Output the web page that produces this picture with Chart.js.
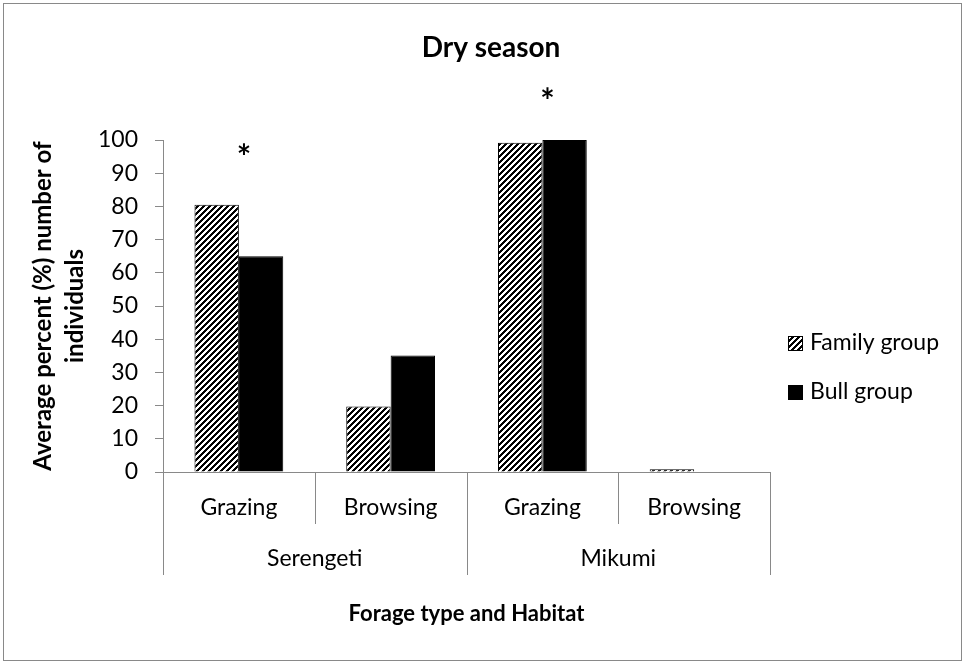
<!DOCTYPE html>
<html lang="en">
<head>
<meta charset="UTF-8">
<title>Dry season</title>
<script src="https://cdn.jsdelivr.net/npm/chart.js@4.4.1/dist/chart.umd.min.js"></script>
<style>
    body { margin: 0; background: #fff; }
    #wrap { width: 965px; height: 664px; }
</style>
</head>
<body>
<div id="wrap"><canvas id="chart" width="965" height="664"></canvas></div>
<script>
// data
const forageTypes = ["Grazing", "Browsing", "Grazing", "Browsing"];
const habitats = ["Serengeti", "Mikumi"];
const familyGroup = [80.5, 19.7, 99.2, 0.8];
const bullGroup = [65.0, 35.1, 100.0, 0];
const starLevels = [97, null, 114, null];   // "*" marks, in axis units
const yTickValues = [0, 10, 20, 30, 40, 50, 60, 70, 80, 90, 100];

const axisGray = "#898989";
Chart.defaults.font.family = "Lato, 'Open Sans', sans-serif";
Chart.defaults.color = "#000";

// upward diagonal hatch like the Excel fill
function makeHatch() {
    const p = 6;
    const c = document.createElement("canvas");
    c.width = p; c.height = p;
    const g = c.getContext("2d");
    const img = g.createImageData(p, p);
    for (let y = 0; y < p; y++) {
        for (let x = 0; x < p; x++) {
            const v = ((x + y) % p) < 3 ? 0 : 255;
            const i = (y * p + x) * 4;
            img.data[i] = img.data[i + 1] = img.data[i + 2] = v;
            img.data[i + 3] = 255;
        }
    }
    g.putImageData(img, 0, 0);
    return g.createPattern(c, "repeat");
}
const hatch = makeHatch();

const decorations = {
    id: "decorations",
    beforeDraw(chart) {
        const ctx = chart.ctx;
        ctx.save();
        ctx.fillStyle = "#fff";
        ctx.fillRect(0, 0, chart.width, chart.height);
        ctx.strokeStyle = axisGray;
        ctx.lineWidth = 1;
        ctx.strokeRect(3.5, 3.5, chart.width - 7, chart.height - 7);
        ctx.restore();
    },
    afterDraw(chart) {
        const { ctx, chartArea } = chart;
        const x = chart.scales.x, y = chart.scales.y;
        const n = forageTypes.length;
        const half = (x.getPixelForValue(1) - x.getPixelForValue(0)) / 2;
        ctx.save();

        // category separators under the axis
        ctx.strokeStyle = axisGray;
        ctx.lineWidth = 1;
        for (let i = 0; i <= n; i++) {
            const edge = i < n ? x.getPixelForValue(i) - half : x.getPixelForValue(n - 1) + half;
            const px = Math.round(edge) + 0.5;
            const len = i % 2 === 0 ? 103 : 52;
            ctx.beginPath();
            ctx.moveTo(px, chartArea.bottom);
            ctx.lineTo(px, chartArea.bottom + len);
            ctx.stroke();
        }

        // habitat labels
        ctx.fillStyle = "#000";
        ctx.font = "23px Lato";
        ctx.textAlign = "center";
        ctx.textBaseline = "middle";
        habitats.forEach((h, k) => {
            const cx = (x.getPixelForValue(2 * k) + x.getPixelForValue(2 * k + 1)) / 2;
            ctx.fillText(h, cx, chartArea.bottom + 87);
        });

        // significance stars
        ctx.font = "bold 34px Lato";
        ctx.textBaseline = "alphabetic";
        starLevels.forEach((lv, i) => {
            if (lv === null) return;
            ctx.fillText("*", x.getPixelForValue(i) + 5, y.getPixelForValue(lv) + 19);
        });

        // legend
        const lx = chartArea.right + 18;
        const rows = [
            { label: chart.data.datasets[0].label, fill: hatch, top: 343 },
            { label: chart.data.datasets[1].label, fill: "#000", top: 392 }
        ];
        ctx.textAlign = "left";
        ctx.textBaseline = "middle";
        ctx.font = "23px Lato";
        rows.forEach(r => {
            ctx.fillStyle = r.fill;
            ctx.fillRect(lx, r.top - 7, 15, 15);
            ctx.strokeStyle = "#000";
            ctx.strokeRect(lx + 0.5, r.top - 6.5, 14, 14);
            ctx.fillStyle = "#000";
            ctx.fillText(r.label, lx + 22, r.top);
        });
        ctx.restore();
    }
};

new Chart(document.getElementById("chart"), {
    type: "bar",
    data: {
        labels: forageTypes,
        datasets: [
            {
                label: "Family group",
                data: familyGroup,
                backgroundColor: hatch,
                borderColor: "#000",
                borderWidth: 1
            },
            {
                label: "Bull group",
                data: bullGroup,
                backgroundColor: "#000",
                borderColor: "#000",
                borderWidth: 1
            }
        ]
    },
    options: {
        responsive: false,
        animation: false,
        layout: { padding: { left: 17, right: 0, top: 0, bottom: 0 } },
        datasets: { bar: { categoryPercentage: 0.585, barPercentage: 1 } },
        plugins: {
            legend: { display: false },
            tooltip: { enabled: false },
            title: {
                display: true,
                text: "Dry season",
                color: "#000",
                font: { size: 28, weight: "bold", lineHeight: "34px" },
                padding: { top: 31, bottom: 75 }
            }
        },
        scales: {
            x: {
                grid: { display: false, drawTicks: false },
                border: { color: axisGray, width: 1 },
                ticks: { font: { size: 23 }, padding: 22, maxRotation: 0, autoSkip: false },
                title: {
                    display: true,
                    text: "Forage type and Habitat",
                    font: { size: 22, weight: "bold", lineHeight: 1.2 },
                    padding: { top: 0, bottom: 37 }
                },
                afterFit(s) { s.height = 192; }
            },
            y: {
                min: 0,
                max: 100,
                afterBuildTicks(s) { s.ticks = yTickValues.map(v => ({ value: v })); },
                grid: { drawOnChartArea: false, tickLength: 8, color: axisGray },
                border: { color: axisGray, width: 1 },
                ticks: { font: { size: 23 }, padding: 17 },
                title: {
                    display: true,
                    text: ["Average percent (%) number of", "individuals"],
                    font: { size: 24, weight: "bold", lineHeight: 1.3 },
                    padding: { top: 11, bottom: 0 }
                },
                afterFit(s) { s.width = 146; }
            },
            yR: {
                type: "linear",
                position: "right",
                grid: { display: false },
                border: { display: false },
                ticks: { display: false },
                afterFit(s) { s.width = 195; }
            }
        }
    },
    plugins: [decorations]
});
</script>
</body>
</html>
